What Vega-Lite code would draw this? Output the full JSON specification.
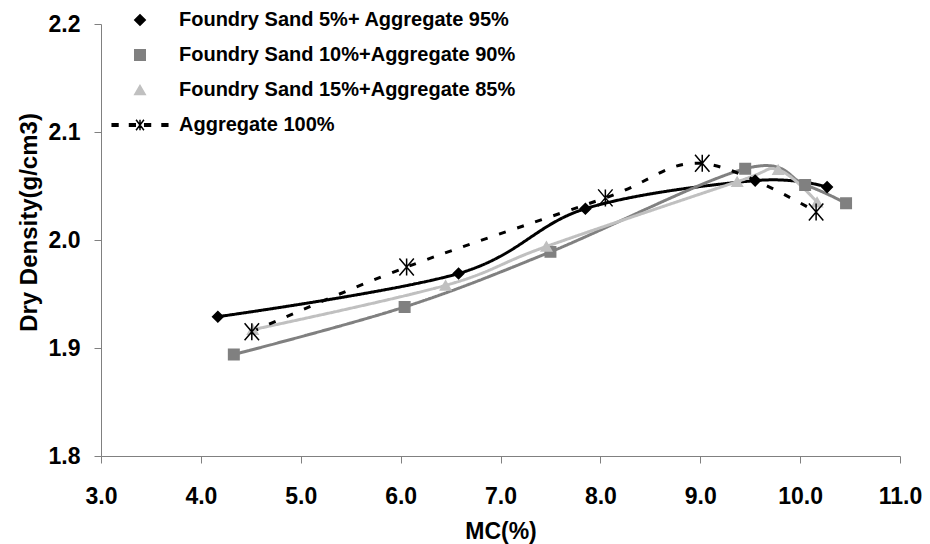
{
  "$schema": "https://vega.github.io/schema/vega-lite/v6.json",
  "width": 799,
  "height": 432,
  "autosize": {"type": "none"},
  "padding": {"left": 101, "top": 24, "right": 30, "bottom": 88},
  "background": "white",
  "config": {"view": {"stroke": null}, "font": "Liberation Sans"},
  "data": {
    "values": [
      {"s": "Foundry Sand 5%+ Aggregate 95%", "mc": 4.17, "dd": 1.929},
      {"s": "Foundry Sand 5%+ Aggregate 95%", "mc": 6.58, "dd": 1.969},
      {"s": "Foundry Sand 5%+ Aggregate 95%", "mc": 7.85, "dd": 2.029},
      {"s": "Foundry Sand 5%+ Aggregate 95%", "mc": 9.55, "dd": 2.055},
      {"s": "Foundry Sand 5%+ Aggregate 95%", "mc": 10.27, "dd": 2.049},
      {"s": "Foundry Sand 10%+Aggregate 90%", "mc": 4.33, "dd": 1.894},
      {"s": "Foundry Sand 10%+Aggregate 90%", "mc": 6.04, "dd": 1.938},
      {"s": "Foundry Sand 10%+Aggregate 90%", "mc": 7.5, "dd": 1.989},
      {"s": "Foundry Sand 10%+Aggregate 90%", "mc": 9.45, "dd": 2.066},
      {"s": "Foundry Sand 10%+Aggregate 90%", "mc": 10.05, "dd": 2.051},
      {"s": "Foundry Sand 10%+Aggregate 90%", "mc": 10.46, "dd": 2.034},
      {"s": "Foundry Sand 15%+Aggregate 85%", "mc": 4.52, "dd": 1.917},
      {"s": "Foundry Sand 15%+Aggregate 85%", "mc": 6.45, "dd": 1.958},
      {"s": "Foundry Sand 15%+Aggregate 85%", "mc": 7.46, "dd": 1.994},
      {"s": "Foundry Sand 15%+Aggregate 85%", "mc": 9.37, "dd": 2.054},
      {"s": "Foundry Sand 15%+Aggregate 85%", "mc": 9.78, "dd": 2.065},
      {"s": "Foundry Sand 15%+Aggregate 85%", "mc": 10.17, "dd": 2.035},
      {"s": "Aggregate 100%", "mc": 4.51, "dd": 1.915},
      {"s": "Aggregate 100%", "mc": 6.06, "dd": 1.975},
      {"s": "Aggregate 100%", "mc": 8.05, "dd": 2.039},
      {"s": "Aggregate 100%", "mc": 9.02, "dd": 2.071},
      {"s": "Aggregate 100%", "mc": 10.16, "dd": 2.026}
    ]
  },
  "encoding": {
    "x": {
      "field": "mc", "type": "quantitative",
      "scale": {"domain": [3, 11], "nice": false, "zero": false},
      "axis": {
        "title": "MC(%)", "values": [3, 4, 5, 6, 7, 8, 9, 10, 11], "format": ".1f",
        "grid": false, "domainColor": "#808080", "tickColor": "#808080", "tickSize": 7,
        "labelFontSize": 23, "labelFontWeight": "bold", "labelColor": "black", "labelPadding": 22,
        "labelFlush": false, "labelOverlap": false,
        "titleFontSize": 23, "titleFontWeight": "bold", "titleColor": "black",
        "titleY": 82, "titleBaseline": "alphabetic"
      }
    },
    "y": {
      "field": "dd", "type": "quantitative",
      "scale": {"domain": [1.8, 2.2], "nice": false, "zero": false},
      "axis": {
        "title": "Dry Density(g/cm3)", "values": [1.8, 1.9, 2.0, 2.1, 2.2], "format": ".1f",
        "grid": false, "domainColor": "#808080", "tickColor": "#808080", "tickSize": 7,
        "labelFontSize": 23, "labelFontWeight": "bold", "labelColor": "black", "labelPadding": 14,
        "labelFlush": false, "labelOverlap": false,
        "titleFontSize": 24, "titleFontWeight": "bold", "titleColor": "black",
        "titleX": -65, "titleY": 198, "titleBaseline": "alphabetic"
      }
    }
  },
  "layer": [
    {
      "mark": {"type": "line", "interpolate": "cardinal", "strokeWidth": 3},
      "encoding": {
        "color": {
          "field": "s", "type": "nominal", "legend": null,
          "scale": {
            "domain": ["Aggregate 100%", "Foundry Sand 5%+ Aggregate 95%", "Foundry Sand 10%+Aggregate 90%", "Foundry Sand 15%+Aggregate 85%"],
            "range": ["#000000", "#000000", "#808080", "#c0c0c0"]
          }
        },
        "strokeDash": {
          "field": "s", "type": "nominal", "legend": null,
          "scale": {
            "domain": ["Aggregate 100%", "Foundry Sand 5%+ Aggregate 95%", "Foundry Sand 10%+Aggregate 90%", "Foundry Sand 15%+Aggregate 85%"],
            "range": [[7, 12], [1, 0], [1, 0], [1, 0]]
          }
        }
      }
    },
    {
      "transform": [{"filter": "datum.s !== 'Aggregate 100%'"}],
      "mark": {"type": "point", "filled": true, "opacity": 1, "strokeWidth": 1.5},
      "encoding": {
        "shape": {
          "field": "s", "type": "nominal",
          "scale": {
            "domain": ["Foundry Sand 5%+ Aggregate 95%", "Foundry Sand 10%+Aggregate 90%", "Foundry Sand 15%+Aggregate 85%", "Aggregate 100%"],
            "range": ["diamond", "square", "triangle-up", "M0,-1L0,1M-0.75,-1L0.75,1M-0.75,1L0.75,-1M-5.3,-0.25H-4.2V0.25H-5.3ZM-2,-0.25H-0.9V0.25H-2ZM0.9,-0.25H2V0.25H0.9ZM4.2,-0.25H5.3V0.25H4.2Z"]
          },
          "legend": {
            "title": null, "orient": "none", "legendX": 29, "legendY": -14, "padding": 0,
            "symbolStrokeWidth": 1.5, "symbolOpacity": 1, "labelOffset": 29, "rowPadding": 15,
            "labelFontSize": 20, "labelFontWeight": "bold", "labelColor": "black", "labelLimit": 500
          }
        },
        "fill": {
          "field": "s", "type": "nominal",
          "scale": {
            "domain": ["Foundry Sand 5%+ Aggregate 95%", "Foundry Sand 10%+Aggregate 90%", "Foundry Sand 15%+Aggregate 85%", "Aggregate 100%"],
            "range": ["#000000", "#808080", "#c0c0c0", "#000000"]
          }
        },
        "stroke": {
          "field": "s", "type": "nominal",
          "scale": {
            "domain": ["Foundry Sand 5%+ Aggregate 95%", "Foundry Sand 10%+Aggregate 90%", "Foundry Sand 15%+Aggregate 85%", "Aggregate 100%"],
            "range": ["#000000", "#808080", "#c0c0c0", "#000000"]
          }
        },
        "size": {
          "field": "s", "type": "nominal",
          "scale": {
            "domain": ["Foundry Sand 5%+ Aggregate 95%", "Foundry Sand 10%+Aggregate 90%", "Foundry Sand 15%+Aggregate 85%", "Aggregate 100%"],
            "range": [110, 110, 150, 144]
          }
        }
      }
    },
    {
      "transform": [{"filter": "datum.s === 'Aggregate 100%'"}],
      "mark": {
        "type": "point", "shape": "M0,-1L0,1M-0.85,-1L0.85,1M-0.85,1L0.85,-1",
        "size": 289, "stroke": "#000000", "strokeWidth": 1.5, "fill": null, "opacity": 1, "filled": false
      },
      "encoding": {}
    }
  ]
}
